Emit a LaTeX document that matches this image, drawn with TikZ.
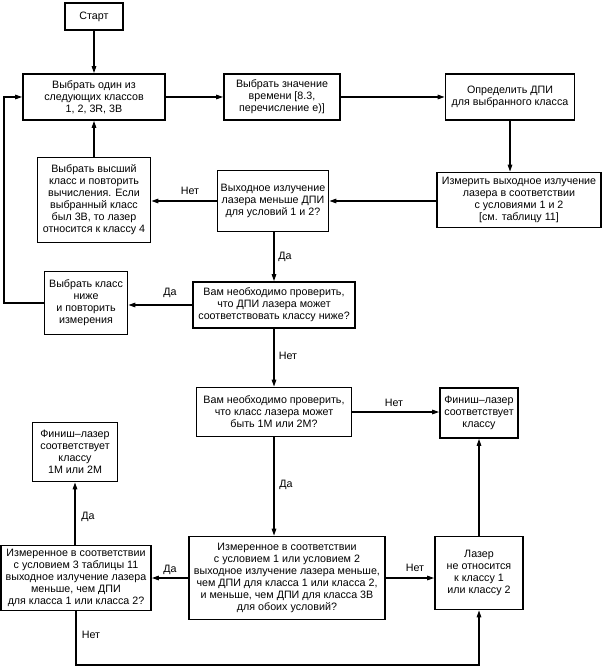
\documentclass[tikz,border=0pt]{standalone}
\usepackage{fontspec}
\setmainfont{Liberation Sans}
\usetikzlibrary{arrows.meta}
\begin{document}
\begin{tikzpicture}[x=1pt,y=-1pt,
  box/.style={draw, line width=1.7pt, align=center, inner sep=1pt,
    font=\fontsize{10.7}{12}\selectfont},
  lbl/.style={font=\fontsize{10.7}{12}\selectfont, inner sep=0pt},
  conn/.style={line width=1.3pt},
  arr/.style={conn, -{Triangle[length=7pt,width=4.5pt]}}]
\useasboundingbox (0,0) rectangle (605,668);

\node[box, minimum width=58, minimum height=27] (start) at (94,16.5) {Старт};
\node[box, minimum width=142, minimum height=46] (A) at (94,97) {Выбрать один из\\следующих классов\\1, 2, 3R, 3B};
\node[box, minimum width=116, minimum height=46] (B) at (282,97) {Выбрать значение\\времени [8.3,\\перечисление е)]};
\node[box, minimum width=129, minimum height=46] (C) at (510,97) {Определить ДПИ\\для выбранного класса};
\node[box, minimum width=113, minimum height=85] (D) at (94,200) {Выбрать высший\\класс и повторить\\вычисления. Если\\выбранный класс\\был 3B, то лазер\\относится к классу 4};
\node[box, minimum width=111, minimum height=61] (E) at (273,201) {Выходное излучение\\лазера меньше ДПИ\\для условий 1 и 2?};
\node[box, minimum width=164, minimum height=55] (F) at (519,200) {Измерить выходное излучение\\лазера в соответствии\\с условиями 1 и 2\\{[}см. таблицу 11{]}};
\node[box, minimum width=162, minimum height=46] (G) at (274,305) {Вам необходимо проверить,\\что ДПИ лазера может\\соответствовать классу ниже?};
\node[box, minimum width=83, minimum height=63] (H) at (86,303) {Выбрать класс\\ниже\\и повторить\\измерения};
\node[box, minimum width=155, minimum height=49] (I) at (274,412) {Вам необходимо проверить,\\что класс лазера может\\быть 1М или 2М?};
\node[box, minimum width=78, minimum height=50] (J) at (479,413) {Финиш–лазер\\соответствует\\классу};
\node[box, minimum width=85, minimum height=59] (K) at (75,452) {Финиш–лазер\\соответствует\\классу\\1М или 2М};
\node[box, minimum width=150, minimum height=65] (L) at (76,578) {Измеренное в соответствии\\с условием 3 таблицы 11\\выходное излучение лазера\\меньше, чем ДПИ\\для класса 1 или класса 2?};
\node[box, minimum width=196, minimum height=83] (M) at (287,578) {Измеренное в соответствии\\с условием 1 или условием 2\\выходное излучение лазера меньше,\\чем ДПИ для класса 1 или класса 2,\\и меньше, чем ДПИ для класса 3B\\для обоих условий?};
\node[box, minimum width=88, minimum height=73] (N) at (479,573) {Лазер\\не относится\\к классу 1\\или классу 2};

\coordinate (lb) at (76,665);
\coordinate (lx) at (4,303);

\draw[arr] (start) -- (A);
\draw[arr] (A) -- (B);
\draw[arr] (B) -- (C);
\draw[arr] (C.south) -- (C.south |- F.north);
\draw[arr] (F.west |- E.east) -- (E.east);
\draw[arr] (E.west) -- (D.east |- E.west);
\draw[arr] (D.north) -- (A.south);
\draw[arr] (E.south -| G.north) -- (G.north);
\draw[arr] (G.west) -- (H.east |- G.west);
\draw[arr] (H.west |- lx) -- (lx) -- (lx |- A.west) -- (A.west);
\draw[arr] (G.south) -- (I.north);
\draw[arr] (I.east) -- (J.west |- I.east);
\draw[arr] (I.south) -- (I.south |- M.north);
\draw[arr] (M.west) -- (L.east |- M.west);
\draw[arr] (M.east) -- (N.west |- M.east);
\draw[arr] (L.north -| K.south) -- (K.south);
\draw[arr] (L.south) -- (lb) -- (lb -| N.south) -- (N.south);
\draw[arr] (N.north) -- (J.south);

\node[lbl] (t1) at (190,191) {Нет};
\node[lbl] (t2) at (285,257) {Да};
\node[lbl] (t3) at (170,293) {Да};
\node[lbl] (t4) at (288,356) {Нет};
\node[lbl] (t5) at (394,403) {Нет};
\node[lbl] (t6) at (286,485) {Да};
\node[lbl] (t7) at (88,517) {Да};
\node[lbl] (t8) at (170,570) {Да};
\node[lbl] (t9) at (415,568) {Нет};
\node[lbl] (t10) at (91,635) {Нет};
\end{tikzpicture}
\end{document}
